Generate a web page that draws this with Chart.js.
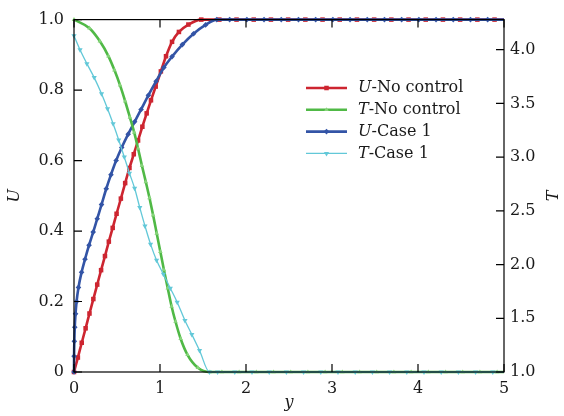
<!DOCTYPE html>
<html>
<head>
<meta charset="utf-8">
<script src="https://cdn.jsdelivr.net/npm/chart.js@4.4.1/dist/chart.umd.min.js"></script>
<style>
  body { margin: 0; background: #fff; }
  canvas { display: block; }
</style>
</head>
<body>
<canvas id="profiles" width="564" height="416"></canvas>
<script>
// velocity U (left axis) and temperature T (right axis) against y
var redX = [0, 0.045, 0.09, 0.135, 0.18, 0.225, 0.27, 0.315, 0.36, 0.405, 0.45, 0.495, 0.545, 0.595, 0.645, 0.695, 0.745, 0.795, 0.845, 0.895, 0.95, 1.01, 1.07, 1.14, 1.22, 1.33, 1.48,
    1.69, 1.89, 2.09, 2.29, 2.49, 2.69, 2.89, 3.09, 3.29, 3.49, 3.69, 3.89, 4.09, 4.29, 4.49, 4.69, 4.89, 5];
var redU = [0, 0.041, 0.083, 0.124, 0.166, 0.207, 0.248, 0.289, 0.329, 0.37, 0.409, 0.449, 0.492, 0.536, 0.579, 0.618, 0.657, 0.696, 0.734, 0.771, 0.81, 0.853, 0.896, 0.937, 0.965, 0.986, 1,
    1, 1, 1, 1, 1, 1, 1, 1, 1, 1, 1, 1, 1, 1, 1, 1, 1, 1];

var greenX = [0, 0.18, 0.3, 0.4, 0.47, 0.535, 0.595, 0.65, 0.7, 0.745, 0.79, 0.835, 0.878, 0.92, 0.962, 1.004, 1.046, 1.09, 1.135, 1.18, 1.24, 1.32, 1.44, 1.58,
    1.72, 1.92, 2.12, 2.32, 2.52, 2.72, 2.92, 3.12, 3.32, 3.52, 3.72, 3.92, 4.12, 4.32, 4.52, 4.72, 4.92, 5];
var greenT = [4.28, 4.20, 4.08, 3.94, 3.81, 3.67, 3.52, 3.37, 3.23, 3.08, 2.92, 2.77, 2.62, 2.46, 2.29, 2.12, 1.95, 1.78, 1.61, 1.47, 1.31, 1.16, 1.04, 1.0,
    1, 1, 1, 1, 1, 1, 1, 1, 1, 1, 1, 1, 1, 1, 1, 1, 1, 1];

var blueX = [0, 0.001, 0.004, 0.009, 0.018, 0.03, 0.052, 0.088, 0.128, 0.175, 0.223, 0.27, 0.32, 0.375, 0.43, 0.49, 0.555, 0.63, 0.705, 0.78, 0.865, 0.955, 1.045, 1.14, 1.26, 1.39, 1.53,
    1.66, 1.81, 2.01, 2.21, 2.41, 2.61, 2.81, 3.01, 3.21, 3.41, 3.61, 3.81, 4.01, 4.21, 4.41, 4.61, 4.81, 5];
var blueU = [0, 0.045, 0.087, 0.127, 0.165, 0.2, 0.24, 0.283, 0.32, 0.36, 0.397, 0.435, 0.475, 0.52, 0.56, 0.60, 0.637, 0.675, 0.71, 0.745, 0.785, 0.825, 0.864, 0.895, 0.929, 0.96, 0.985,
    1, 1, 1, 1, 1, 1, 1, 1, 1, 1, 1, 1, 1, 1, 1, 1, 1, 1];

var cyanX = [0, 0.07, 0.15, 0.235, 0.32, 0.39, 0.455, 0.52, 0.585, 0.645, 0.705, 0.765, 0.825, 0.89, 0.96, 1.04, 1.12, 1.2, 1.29, 1.37, 1.46, 1.575,
    1.67, 1.87, 2.07, 2.27, 2.47, 2.67, 2.87, 3.07, 3.27, 3.47, 3.67, 3.87, 4.07, 4.27, 4.47, 4.67, 4.87, 5];
var cyanT = [4.13, 4.00, 3.87, 3.74, 3.59, 3.45, 3.31, 3.16, 3.00, 2.85, 2.71, 2.53, 2.36, 2.19, 2.04, 1.91, 1.78, 1.65, 1.48, 1.35, 1.20, 1.0,
    1, 1, 1, 1, 1, 1, 1, 1, 1, 1, 1, 1, 1, 1, 1, 1, 1, 1];

var yTicks = [0, 1, 2, 3, 4, 5];
var uTicks = [0, 0.2, 0.4, 0.6, 0.8, 1.0];
var tTicks = [1.0, 1.5, 2.0, 2.5, 3.0, 3.5, 4.0];

var FONT = '"DejaVu Serif", serif';
var INK = '#1a1a1a';

function pts(xs, ys) {
    return xs.map(function (x, i) { return { x: x, y: ys[i] }; });
}

// no marker on the last point of a line
function markerSize(r) {
    return function (c) { return c.dataIndex === c.dataset.data.length - 1 ? 0 : r; };
}

function series(label, xs, ys, axis, color, mark, width, style, r, rot, order) {
    return {
        label: label,
        data: pts(xs, ys),
        yAxisID: axis,
        borderColor: color,
        backgroundColor: color,
        borderWidth: width,
        pointStyle: style,
        pointRadius: markerSize(r),
        legendRadius: r,
        pointRotation: rot,
        pointBorderWidth: 0,
        pointBackgroundColor: mark,
        cubicInterpolationMode: 'monotone',
        clip: false,
        order: order
    };
}

// box, inward ticks, right axis title and the legend
var decorations = {
    id: 'decorations',
    beforeDraw: function (chart) {
        var ctx = chart.ctx;
        ctx.save();
        ctx.fillStyle = '#fff';
        ctx.fillRect(0, 0, chart.width, chart.height);
        ctx.restore();
    },
    afterDatasetsDraw: function (chart) {
        var ctx = chart.ctx, a = chart.chartArea, s = chart.scales;
        var len = 8;
        ctx.save();
        ctx.strokeStyle = '#000';
        ctx.lineWidth = 1.2;
        ctx.strokeRect(a.left, a.top, a.right - a.left, a.bottom - a.top);
        ctx.beginPath();
        s.x.ticks.forEach(function (t) {
            var p = s.x.getPixelForValue(t.value);
            ctx.moveTo(p, a.bottom); ctx.lineTo(p, a.bottom - len);
            ctx.moveTo(p, a.top); ctx.lineTo(p, a.top + len);
        });
        s.y.ticks.forEach(function (t) {
            var p = s.y.getPixelForValue(t.value);
            ctx.moveTo(a.left, p); ctx.lineTo(a.left + len, p);
        });
        s.y2.ticks.forEach(function (t) {
            var p = s.y2.getPixelForValue(t.value);
            ctx.moveTo(a.right, p); ctx.lineTo(a.right - len, p);
        });
        ctx.stroke();

        ctx.fillStyle = INK;
        ctx.font = 'italic 16px ' + FONT;
        ctx.textAlign = 'center';
        ctx.textBaseline = 'middle';
        ctx.translate(554, (a.top + a.bottom) / 2);
        ctx.rotate(-Math.PI / 2);
        ctx.fillText('T', 0, 0);
        ctx.restore();

        // legend, first letter in italics
        ctx.save();
        ctx.textBaseline = 'middle';
        ctx.textAlign = 'left';
        chart.data.datasets.forEach(function (ds, i) {
            var y = 88 + i * 21.8;
            ctx.strokeStyle = ds.borderColor;
            ctx.lineWidth = ds.borderWidth;
            ctx.beginPath();
            ctx.moveTo(306, y);
            ctx.lineTo(347, y);
            ctx.stroke();
            ctx.fillStyle = ds.pointBackgroundColor;
            Chart.helpers.drawPoint(ctx, {
                pointStyle: ds.pointStyle,
                radius: ds.legendRadius,
                rotation: ds.pointRotation,
                borderWidth: 0
            }, 326.5, y);
            ctx.fillStyle = INK;
            ctx.font = 'italic 16px ' + FONT;
            ctx.fillText(ds.label[0], 358, y);
            var w = ctx.measureText(ds.label[0]).width;
            ctx.font = '16px ' + FONT;
            ctx.fillText(ds.label.slice(1), 358 + w, y);
        });
        ctx.restore();
    }
};

var red = series('U-No control', redX, redU, 'y', '#cd2530', '#cd2530', 2.6, 'rect', 3.2, 0, 4);
var green = series('T-No control', greenX, greenT, 'y2', '#50b946', '#86d47a', 2.6, 'triangle', 2.6, 0, 2);
var blue = series('U-Case 1', blueX, blueU, 'y', '#3354a6', '#3354a6', 2.6, 'rectRot', 2.8, 0, 3);
var cyan = series('T-Case 1', cyanX, cyanT, 'y2', '#62c8d8', '#62c8d8', 1.3, 'triangle', 3, 180, 1);

var ctx = document.getElementById('profiles');
var chart = new Chart(ctx, {
    type: 'line',
    data: { datasets: [red, green, blue, cyan] },
    options: {
        responsive: false,
        animation: false,
        devicePixelRatio: 1,
        layout: { padding: { top: 14, left: 0, right: 0, bottom: 0 } },
        plugins: {
            legend: { display: false },
            tooltip: { enabled: false }
        },
        scales: {
            x: {
                type: 'linear',
                min: 0, max: 5,
                afterBuildTicks: function (s) { s.ticks = yTicks.map(function (v) { return { value: v }; }); },
                afterFit: function (s) { s.height = 44; },
                grid: { display: false, drawTicks: false },
                border: { display: false },
                ticks: { font: { family: FONT, size: 16 }, color: INK, padding: 7, maxRotation: 0,
                    callback: function (v) { return String(v); } },
                title: { display: true, text: 'y', color: INK, font: { family: FONT, size: 16, style: 'italic' },
                    padding: { top: 0, bottom: 4 } }
            },
            y: {
                position: 'left',
                min: 0, max: 1,
                afterBuildTicks: function (s) { s.ticks = uTicks.map(function (v) { return { value: v }; }); },
                afterFit: function (s) { s.width = 74; },
                grid: { display: false, drawTicks: false },
                border: { display: false },
                ticks: { font: { family: FONT, size: 16 }, color: INK, padding: 10,
                    callback: function (v) { return v === 0 ? '0' : v.toFixed(1); } },
                title: { display: true, text: 'U', color: INK, font: { family: FONT, size: 16, style: 'italic' },
                    padding: { top: 5, bottom: 0 } }
            },
            y2: {
                position: 'right',
                min: 1, max: 4.28,
                afterBuildTicks: function (s) { s.ticks = tTicks.map(function (v) { return { value: v }; }); },
                afterFit: function (s) { s.width = 60; },
                grid: { display: false, drawTicks: false },
                border: { display: false },
                ticks: { font: { family: FONT, size: 16 }, color: INK, padding: 6,
                    callback: function (v) { return v.toFixed(1); } }
            }
        }
    },
    plugins: [decorations]
});
</script>
</body>
</html>
